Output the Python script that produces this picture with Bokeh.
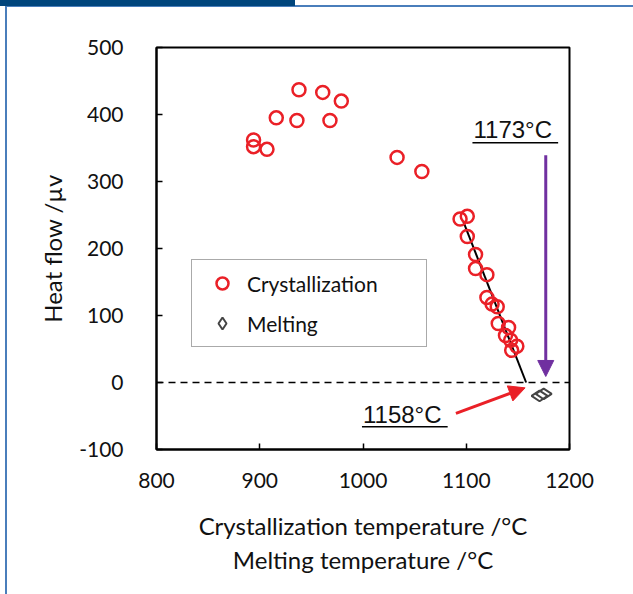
from bokeh.plotting import figure
from bokeh.models import (Range1d, FixedTicker, Arrow, NormalHead, Label, Legend,
                          LegendItem, Title, Span, InlineStyleSheet)
from bokeh.embed import file_html
from bokeh.resources import INLINE

# ---- data ----
cryst_temp = [938, 961, 979, 916, 936, 968, 894, 894, 907, 1033, 1057,
              1101, 1094, 1101, 1109, 1109, 1120, 1120, 1125, 1130, 1131,
              1141, 1138, 1143, 1149, 1144]
cryst_heat = [437, 433, 420, 395, 391, 391, 362, 352, 348, 336, 315,
              248, 244, 218, 191, 170, 161, 127, 117, 113, 88,
              82, 70, 63, 54, 48]
melt_temp = [1171, 1175]
melt_heat = [-20, -17]
fit_temp = [1097, 1158]
fit_heat = [241, 0]
x_ticks = [800, 900, 1000, 1100, 1200]
y_ticks = [-100, 0, 100, 200, 300, 400, 500]
melt_label = "1173°C"
onset_label = "1158°C"

RED = "#EA2027"
PURPLE = "#7030A0"
FONT = "Lato"

p = figure(width=633, height=594, output_backend="svg", toolbar_location=None,
           x_range=Range1d(800, 1200), y_range=Range1d(-100, 500),
           min_border_left=156, min_border_right=64, min_border_top=47,
           min_border_bottom=145, background_fill_color="white",
           border_fill_color="white")
p.grid.visible = False
p.outline_line_color = "black"
p.outline_line_width = 2

for ax in (p.xaxis[0], p.yaxis[0]):
    ax.axis_line_color = "black"
    ax.axis_line_width = 2
    ax.major_tick_in = 6
    ax.major_tick_out = 0
    ax.major_tick_line_color = "black"
    ax.major_tick_line_width = 1.5
    ax.minor_tick_line_color = None
    ax.major_label_text_font = FONT
    ax.major_label_text_font_size = "21px"
    ax.major_label_text_color = "#111111"
    ax.axis_label_text_font = FONT
    ax.axis_label_text_font_style = "normal"
    ax.axis_label_text_font_size = "24px"
    ax.axis_label_text_color = "#111111"

p.xaxis.ticker = FixedTicker(ticks=x_ticks)
p.yaxis.ticker = FixedTicker(ticks=y_ticks)
p.yaxis.major_label_overrides = {t: str(t) for t in y_ticks}
p.xaxis.major_label_standoff = 23
p.yaxis.major_label_standoff = 33
p.xaxis.axis_label = "Crystallization temperature /°C"
p.xaxis.axis_label_standoff = 20
p.yaxis.axis_label = "Heat flow /µv"
p.yaxis.axis_label_standoff = 9

t2 = Title(text="Melting temperature /°C", align="center", text_font=FONT,
           text_font_size="24px", text_font_style="normal", text_color="#111111",
           standoff=0)
p.add_layout(t2, "below")

# zero line
p.add_layout(Span(location=0, dimension="width", line_color="black",
                  line_width=1.5, line_dash="7 5"))

# fit line
p.line(fit_temp, fit_heat, line_color="black", line_width=2)

r_c = p.scatter(cryst_temp, cryst_heat, marker="circle", size=13,
                fill_color=None, line_color=RED, line_width=2.5)
r_m = p.scatter(melt_temp, melt_heat, marker="diamond", size=16, angle=1.5708,
                fill_color=None, line_color="#444444", line_width=2)

# arrows
p.add_layout(Arrow(end=NormalHead(size=16, fill_color=PURPLE, line_color=PURPLE),
                   x_start=1177, y_start=339, x_end=1177, y_end=9,
                   line_color=PURPLE, line_width=3))
p.add_layout(Arrow(end=NormalHead(size=16, fill_color=RED, line_color=RED),
                   x_start=1090, y_start=-46, x_end=1157, y_end=-8,
                   line_color=RED, line_width=3))

# annotation labels with underline
p.add_layout(Label(x=1107, y=378, text=melt_label, text_font="Liberation Sans",
                   text_font_size="24px", text_color="#111111",
                   text_baseline="alphabetic"))
p.segment(x0=[1106], y0=[358], x1=[1189], y1=[358], line_color="black", line_width=1.5)
p.add_layout(Label(x=1000, y=-48, text=onset_label, text_font="Liberation Sans",
                   text_font_size="24px", text_color="#111111",
                   text_baseline="alphabetic"))
p.segment(x0=[999], y0=[-66], x1=[1082], y1=[-66], line_color="black", line_width=1.5)

legend = Legend(items=[LegendItem(label="Crystallization", renderers=[r_c]),
                       LegendItem(label="Melting", renderers=[r_m])],
                location=(35, 102), padding=8, spacing=10,
                glyph_width=44, glyph_height=30, label_standoff=3,
                label_height=30, label_width=171, label_text_font=FONT,
                label_text_font_size="21px", label_text_color="#111111",
                border_line_color="#555555", border_line_width=1.5,
                background_fill_color="white", background_fill_alpha=1,
                margin=0)
p.add_layout(legend, "center")

# page decoration of the screenshot (thin frame and dark bar)
p.stylesheets = [InlineStyleSheet(css="""
:host { position: relative; }
:host::before { content: ""; position: absolute; left: 0; top: 0; width: 295px;
  height: 6px; background: #00457C; z-index: 11; pointer-events: none; }
:host::after { content: ""; position: absolute; left: 5px; top: 5px; right: 0;
  bottom: 0; border-left: 2px solid #4A7EBB; border-top: 2px solid #4A7EBB;
  z-index: 10; pointer-events: none; }
""")]

open("out.html", "w").write(file_html(p, INLINE))
